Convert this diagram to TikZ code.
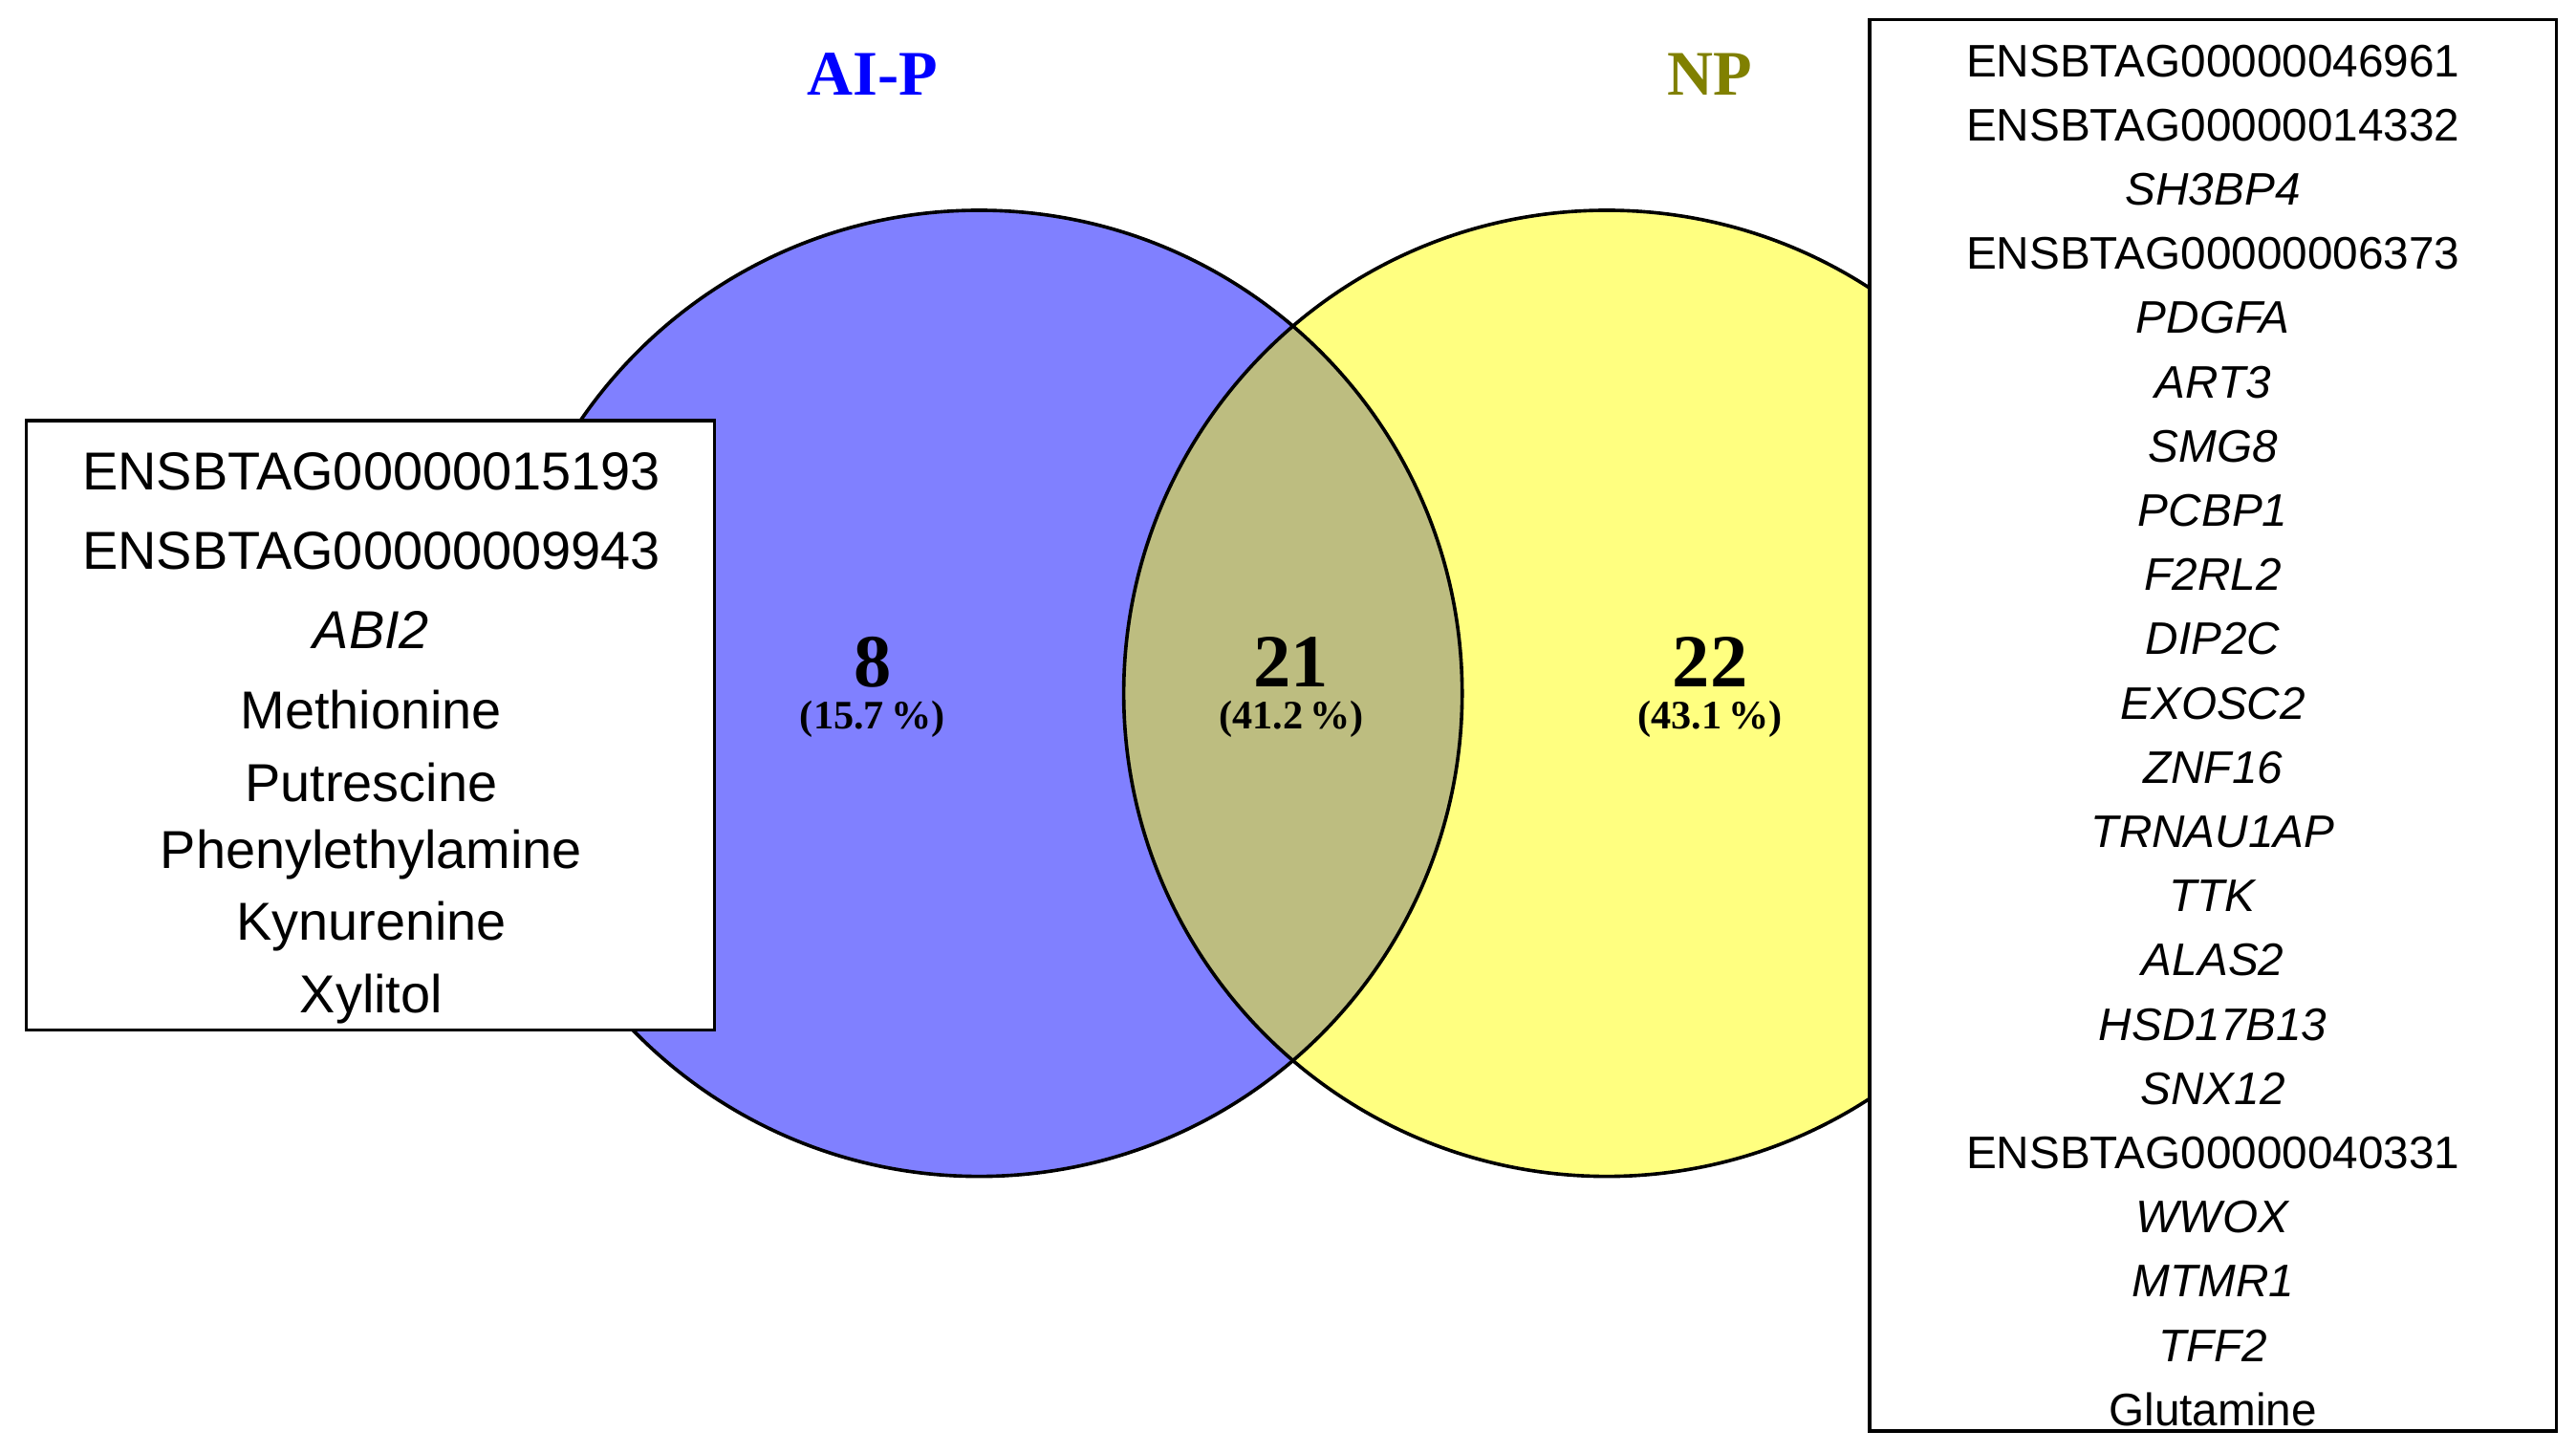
\documentclass[tikz,border=0pt]{standalone}
\usepackage{fontspec}
\setmainfont{Liberation Sans}
\newfontfamily\serifb{Liberation Serif}
\begin{document}
\begin{tikzpicture}[x=0.02cm,y=-0.02cm,
  lst/.style={font=\fontsize{18.5pt}{18.5pt}\selectfont,inner sep=0},
  rst/.style={font=\fontsize{15.8pt}{15.8pt}\selectfont,inner sep=0},
  num/.style={font=\serifb\bfseries\fontsize{26pt}{26pt}\selectfont,inner sep=0},
  pct/.style={font=\serifb\bfseries\fontsize{14pt}{14pt}\selectfont,inner sep=0},
  box/.style={draw,line width=1.2pt,fill=white}]
\useasboundingbox (0,0) rectangle (1568,884);
\definecolor{cblue}{HTML}{8080FF}
\definecolor{cyel}{HTML}{FFFF80}
\definecolor{colive}{HTML}{BDBD80}
\fill[cblue] (596,422) circle (294);
\fill[cyel] (978,422) circle (294);
\begin{scope}
\clip (596,422) circle (294);
\fill[colive] (978,422) circle (294);
\end{scope}
\draw[line width=1.2pt] (596,422) circle (294);
\draw[line width=1.2pt] (978,422) circle (294);
\node[font=\serifb\bfseries\fontsize{22pt}{22pt}\selectfont,text=blue] (t1) at (531,45) {AI-P};
\node[font=\serifb\bfseries\fontsize{22pt}{22pt}\selectfont,text={rgb,255:red,128;green,128;blue,0}] (t2) at (1041,45) {NP};
\node[num] (n1) at (531,403) {8};
\node[pct] (p1) at (531,438) {(15.7\,\%)};
\node[num] (n2) at (786,403) {21};
\node[pct] (p2) at (786,438) {(41.2\,\%)};
\node[num] (n3) at (1041,403) {22};
\node[pct] (p3) at (1041,438) {(43.1\,\%)};
\draw[box] (16,256) rectangle (435,627);
\foreach \t [count=\i] in {ENSBTAG00000015193,ENSBTAG00000009943,\textit{ABI2},Methionine}
  \node[lst] (l\i) at (226,287+48.3*\i-48.3) {\t};
\foreach \t [count=\i] in {Putrescine,Phenylethylamine,Kynurenine,Xylitol}
  \node[lst] (m\i) at (226,476+44*\i-44) {\t};
\draw[box] (1138,12) rectangle (1556,871);
\foreach \t [count=\i] in {ENSBTAG00000046961,ENSBTAG00000014332,\textit{SH3BP4},ENSBTAG00000006373,\textit{PDGFA},\textit{ART3},\textit{SMG8},\textit{PCBP1},\textit{F2RL2},\textit{DIP2C},\textit{EXOSC2},\textit{ZNF16},\textit{TRNAU1AP},\textit{TTK},\textit{ALAS2},\textit{HSD17B13},\textit{SNX12},ENSBTAG00000040331,\textit{WWOX},\textit{MTMR1},\textit{TFF2},Glutamine}
  \node[rst] (r\i) at (1347,37+39.1*\i-39.1) {\t};
\end{tikzpicture}
\end{document}
